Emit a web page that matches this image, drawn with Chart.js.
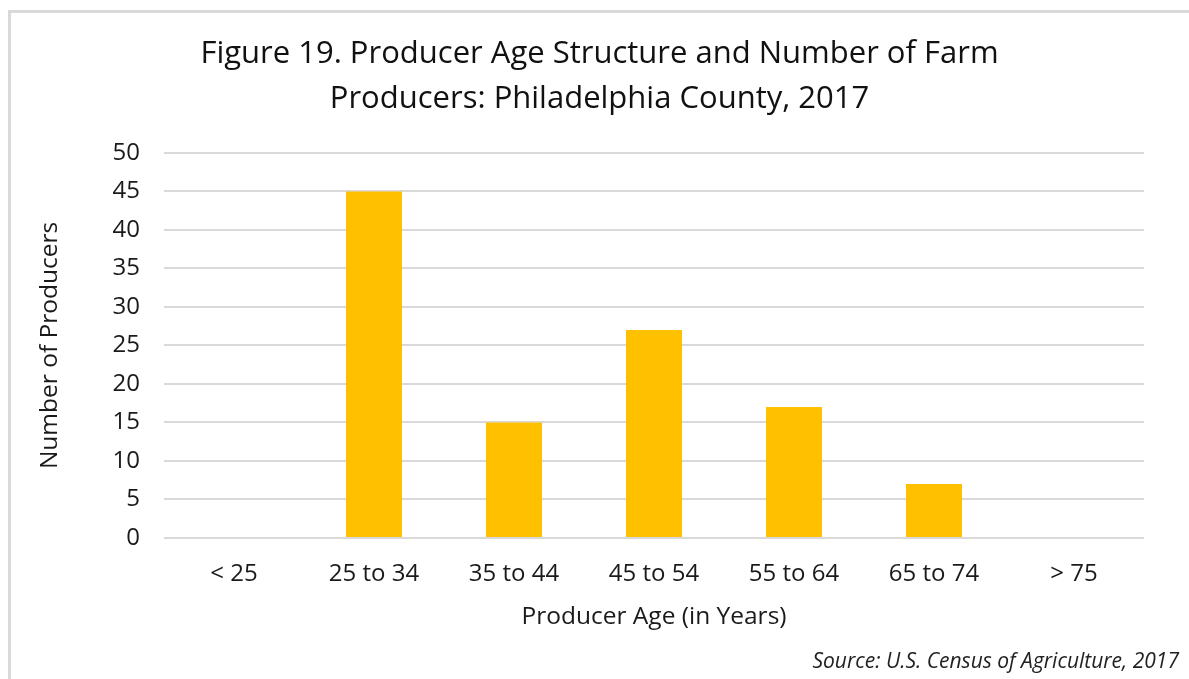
<!DOCTYPE html>
<html>
<head>
<meta charset="utf-8">
<script src="https://cdn.jsdelivr.net/npm/chart.js@4"></script>
<style>
  html, body { margin: 0; padding: 0; background: #fff; }
  #frame { position: absolute; left: 8px; top: 10px; width: 1200px; height: 700px; border-left: 3px solid #d9d9d9; border-top: 3px solid #d9d9d9; }
  #wrap { position: absolute; left: 0; top: 0; width: 1189px; height: 679px; }
</style>
</head>
<body>
<div id="frame"></div>
<div id="wrap"><canvas id="c" width="1189" height="679"></canvas></div>
<script>
const categories = ["< 25", "25 to 34", "35 to 44", "45 to 54", "55 to 64", "65 to 74", "> 75"];
const producers = [0, 45, 15, 27, 17, 7, 0];
const titleLines = ["Figure 19. Producer Age Structure and Number of Farm", "Producers: Philadelphia County, 2017"];
const sourceText = "Source: U.S. Census of Agriculture, 2017";
const xTitle = "Producer Age (in Years)";
const yTitle = "Number of Producers";

const FONT = "'Open Sans', Lato, sans-serif";

new Chart(document.getElementById('c'), {
  type: 'bar',
  data: {
    labels: categories,
    datasets: [{
      data: producers,
      backgroundColor: '#FFC000',
      borderWidth: 0,
      categoryPercentage: 1.0,
      barPercentage: 0.4
    }]
  },
  options: {
    responsive: false,
    animation: false,
    layout: { padding: { left: 20, right: 10, top: 0, bottom: 0 } },
    plugins: {
      legend: { display: false },
      tooltip: { enabled: false },
      title: {
        display: true,
        text: titleLines,
        color: '#111',
        font: { family: FONT, size: 31, weight: 'normal', lineHeight: 1.45 },
        padding: { top: 32, bottom: 31 }
      },
      subtitle: {
        display: true,
        position: 'bottom',
        align: 'end',
        text: sourceText,
        color: '#222',
        font: { family: FONT, size: 21, style: 'italic', weight: 'normal', lineHeight: 1.2 },
        padding: { top: 10, bottom: 4 }
      }
    },
    scales: {
      x: {
        grid: { display: false, drawTicks: false },
        border: { display: false },
        ticks: { color: '#1a1a1a', font: { family: FONT, size: 24 }, padding: 22, maxRotation: 0 },
        title: { display: true, text: xTitle, color: '#1a1a1a', font: { family: FONT, size: 24.5 }, padding: { top: 0, bottom: 8 } },
        afterFit: (s) => { s.height = 101.8; }
      },
      y: {
        min: 0, max: 50,
        ticks: { stepSize: 5, color: '#1a1a1a', font: { family: FONT, size: 24 }, padding: 24 },
        grid: { color: '#d9d9d9', lineWidth: 2, drawTicks: false },
        border: { display: false },
        title: { display: true, text: yTitle, color: '#1a1a1a', font: { family: FONT, size: 24.5 }, padding: { top: 15, bottom: 0 } },
        afterFit: (s) => { s.width = 144; }
      },
      yRight: {
        position: 'right',
        display: true,
        ticks: { display: false },
        grid: { display: false, drawTicks: false },
        border: { display: false },
        afterFit: (s) => { s.width = 35; }
      }
    }
  }
});
</script>
</body>
</html>
